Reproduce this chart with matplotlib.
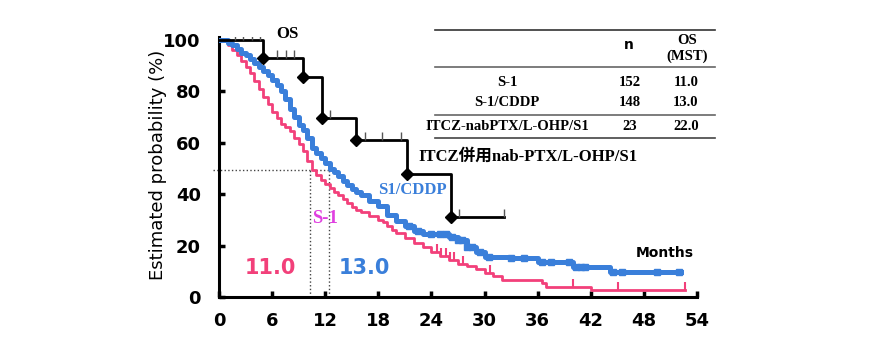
import matplotlib.pyplot as plt
from matplotlib.lines import Line2D

# S-1 (red) step curve
s1_t = [0, 1.0, 1.5, 2.0, 2.5, 3.0, 3.5, 4.0, 4.5, 5.0, 5.5, 6.0, 6.5, 7.0, 7.5, 8.0, 8.5, 9.0, 9.5,
        10.0, 10.5, 11.0, 11.5, 12.0, 12.5, 13.0, 13.5, 14.0, 14.5, 15.0, 15.5, 16.0, 17.0, 18.0,
        18.5, 19.0, 19.5, 20.0, 21.0, 22.0, 23.0, 24.0, 25.0, 26.0, 27.0, 28.0, 29.0, 30.0, 31.0,
        32.0, 36.5, 37.0, 42.0, 52.6]
s1_s = [100, 98, 96, 94, 92, 89.5, 87, 84, 81, 78, 75, 72, 69.5, 67.5, 66, 64.5, 62, 59.5, 57,
        53, 49.5, 47.5, 45.5, 44, 42.5, 41, 39.5, 38, 36.5, 35, 34, 33, 31.5, 30,
        29, 27.5, 26, 25, 23, 21, 19.5, 17.5, 16, 14.5, 13, 12, 11, 9.5, 8,
        6.6, 5.4, 4.0, 2.7, 2.7]
s1_cens = [24.6, 25.1, 25.6, 26.1, 26.6, 27.6, 30.6, 40.0, 45.1, 52.6]

# S-1/CDDP (blue) step curve
cddp_t = [0, 1.0, 1.5, 2.0, 2.5, 3.0, 3.5, 4.0, 4.5, 5.0, 5.5, 6.0, 6.5, 7.0, 7.5, 8.0, 8.5, 9.0,
          9.5, 10.0, 10.5, 11.0, 11.5, 12.0, 12.5, 13.0, 13.5, 14.0, 14.5, 15.0, 15.5, 16.0, 17.0,
          18.0, 19.0, 20.0, 21.0, 22.0, 23.0, 26.0, 27.0, 28.0, 29.0, 30.0, 33.0, 36.0, 40.0,
          44.2, 52.2]
cddp_s = [100, 99, 98, 96.5, 95, 94, 92.5, 91, 89.5, 88, 86.5, 84.5, 82.5, 80, 77, 73, 70, 67,
          65, 62, 58, 56, 54, 52, 50, 48.5, 47, 45, 43.5, 42, 41, 39.5, 37.5,
          35.5, 32, 29.5, 27.5, 25.5, 24.5, 23.5, 22, 19.5, 17.5, 15.7, 15.2, 13.7, 11.8,
          9.9, 9.9]
cddp_cens = [21.5, 22.5, 24.0, 25.0, 25.6, 26.3, 27.0, 27.5, 28.0, 28.6, 29.5, 30.5, 33.0,
             34.5, 36.5, 37.5, 39.5, 40.3, 40.9, 41.4, 44.5, 45.5, 49.5, 52.0]

# ITCZ + nab-PTX/L-OHP/S1 (black)
itcz_t = [0, 5.0, 9.5, 11.6, 15.5, 21.2, 26.2, 32.2]
itcz_s = [100, 93, 85.5, 69.5, 61, 48, 31, 31]
itcz_cens = [1.8, 2.7, 3.7, 4.6, 6.5, 7.6, 8.5, 12.5, 16.5, 18.4, 20.6, 27.1, 32.2]

mst_s1, mst_cddp = 10.3, 12.4

table_rows = ['S-1', 'S-1/CDDP', 'ITCZ-nabPTX/L-OHP/S1']
table_n = ['152', '148', '23']
table_os = ['11.0', '13.0', '22.0']

red = '#f2407a'
blue = '#3a7fda'


def surv_at(ts, ss, t):
    v = ss[0]
    for a, b in zip(ts, ss):
        if a <= t:
            v = b
    return v


fig = plt.figure(figsize=(8.7, 3.6), dpi=100)
ax = fig.add_axes([0.2517, 0.175, 0.5494, 0.721])

ax.plot(s1_t, s1_s, drawstyle='steps-post', color=red, lw=2, zorder=3)
ax.plot(s1_cens, [surv_at(s1_t, s1_s, t) for t in s1_cens], ls='none', marker=2,
        ms=6, mew=1.5, color=red, zorder=3)

ax.plot(cddp_t, cddp_s, drawstyle='steps-post', color=blue, lw=3.6, zorder=4)
ax.plot(cddp_cens, [surv_at(cddp_t, cddp_s, t) for t in cddp_cens], ls='none', marker='s',
        ms=5, color=blue, zorder=4)

ax.plot(itcz_t, itcz_s, drawstyle='steps-post', color='black', lw=2, zorder=5)
ax.plot(itcz_t[1:-1], itcz_s[1:-1], ls='none', marker='D', ms=6, color='black', zorder=5)
ax.plot(itcz_cens, [surv_at(itcz_t, itcz_s, t) for t in itcz_cens], ls='none', marker=2,
        ms=6, mew=1, color='#555555', zorder=5)

# median lines
ax.plot([-0.7, mst_cddp], [49.4, 49.4], ls=':', color='#444444', lw=1, clip_on=False)
ax.plot([mst_s1, mst_s1], [0, 49.4], ls=':', color='#444444', lw=1)
ax.plot([mst_cddp, mst_cddp], [0, 49.4], ls=':', color='#444444', lw=1)

ax.set_xlim(0, 54)
ax.set_ylim(0, 101)
ax.set_xticks(range(0, 55, 6))
ax.set_yticks(range(0, 101, 20))
for s in ['top', 'right']:
    ax.spines[s].set_visible(False)
for s in ['left', 'bottom']:
    ax.spines[s].set_linewidth(2.2)
ax.tick_params(direction='in', length=4, width=2.5, labelsize=13)
ax.tick_params(axis='x', pad=11)
ax.tick_params(axis='y', pad=13)
for lb in ax.get_xticklabels() + ax.get_yticklabels():
    lb.set_fontweight('bold')
ax.set_ylabel('Estimated probability (%)', fontsize=13)
ax.yaxis.set_label_coords(-0.109, 0.51)

ax.text(5.8, 11.3, '11.0', color=red, fontsize=15, fontweight='bold', ha='center', va='center')
ax.text(16.4, 11.3, '13.0', color=blue, fontsize=15, fontweight='bold', ha='center', va='center')
ax.text(12.0, 30.5, 'S-1', color='#e040e0', fontsize=13.5, fontweight='bold', ha='center',
        va='center', family='Liberation Serif')
ax.text(21.9, 41.6, 'S1/CDDP', color=blue, fontsize=12, fontweight='bold', ha='center',
        va='center', family='Liberation Serif')
ax.text(22.5, 54.5, 'ITCZ併用nab-PTX/L-OHP/S1', color='black', fontsize=12, fontweight='bold',
        ha='left', va='center', family=['Liberation Serif', 'Noto Sans CJK JP'])
ax.text(7.7, 102.5, 'OS', fontsize=12, fontweight='bold', ha='center', va='center',
        family='Liberation Serif', clip_on=False)
ax.text(50.4, 17, 'Months', fontsize=10, fontweight='bold', ha='center', va='center')

# table (figure pixel coordinates)
W, H = 870, 360


def fx(px):
    return px / W


def fy(py):
    return 1 - py / H


for py, c in [(30, '#333333'), (67, '#666666'), (115, '#666666'), (138, '#444444')]:
    fig.add_artist(Line2D([fx(435), fx(715)], [fy(py), fy(py)], color=c, lw=1.2))
fig.text(fx(629), fy(45), 'n', fontsize=10, fontweight='bold', ha='center', va='center')
fig.text(fx(687), fy(40), 'OS', fontsize=10.5, fontweight='bold', ha='center', va='center',
         family='Liberation Serif')
fig.text(fx(687), fy(56), '(MST)', fontsize=10.5, fontweight='bold', ha='center', va='center',
         family='Liberation Serif')
for py, name, n, os_ in zip([82, 103, 126], table_rows, table_n, table_os):
    fig.text(fx(507), fy(py), name, fontsize=10.5, fontweight='bold', ha='center', va='center',
             family='Liberation Serif')
    fig.text(fx(630), fy(py), n, fontsize=10.5, fontweight='bold', ha='center', va='center',
             family='Liberation Serif')
    fig.text(fx(686), fy(py), os_, fontsize=10.5, fontweight='bold', ha='center', va='center',
             family='Liberation Serif')

fig.savefig('out.png', dpi=100)
